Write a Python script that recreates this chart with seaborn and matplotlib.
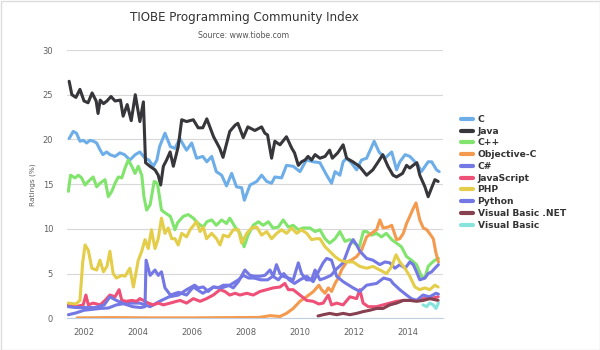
import matplotlib
matplotlib.use("Agg")
import matplotlib.pyplot as plt
import seaborn as sns
import pandas as pd
from matplotlib.patches import Rectangle

# ---------------- data ----------------
languages = ["C", "Java", "C++", "Objective-C", "C#", "JavaScript", "PHP",
             "Python", "Visual Basic .NET", "Visual Basic"]

c_years = [2001.45, 2001.6, 2001.72, 2001.85, 2001.97, 2002.1, 2002.22, 2002.35, 2002.47, 2002.6,
           2002.7, 2002.84, 2002.96, 2003.15, 2003.33, 2003.5, 2003.7, 2003.9, 2004.07, 2004.26,
           2004.4, 2004.57, 2004.7, 2004.8, 2005.0, 2005.2, 2005.37, 2005.55, 2005.68, 2005.8,
           2005.99, 2006.17, 2006.4, 2006.55, 2006.73, 2006.9, 2007.1, 2007.28, 2007.47, 2007.65,
           2007.84, 2007.94, 2008.15, 2008.4, 2008.58, 2008.77, 2008.95, 2009.07, 2009.32, 2009.5,
           2009.75, 2010.0, 2010.24, 2010.49, 2010.74, 2010.99, 2011.17, 2011.3, 2011.48, 2011.6,
           2011.73, 2011.9, 2012.1, 2012.28, 2012.47, 2012.75, 2012.93, 2013.15, 2013.4, 2013.58,
           2013.7, 2013.9, 2014.07, 2014.2, 2014.38, 2014.5, 2014.75, 2014.88, 2015.06, 2015.16]
c_vals = [20.1, 20.9, 20.7, 19.8, 19.9, 19.6, 19.9, 19.8, 19.6, 18.8,
          18.3, 18.6, 18.3, 18.1, 18.5, 18.3, 17.7, 18.3, 18.6, 17.9,
          17.7, 17.0, 17.7, 19.2, 20.7, 19.2, 19.0, 20.1, 19.4, 18.8,
          19.6, 17.9, 18.1, 17.5, 18.1, 16.4, 16.0, 14.8, 16.2, 14.7,
          14.6, 13.2, 14.9, 15.3, 16.0, 15.3, 15.1, 15.8, 15.7, 17.1,
          17.0, 16.4, 17.7, 17.5, 17.4, 16.0, 15.1, 16.4, 16.0, 17.5,
          17.9, 17.4, 16.6, 17.7, 17.9, 19.8, 18.6, 17.9, 18.6, 16.6,
          17.5, 18.3, 18.1, 17.7, 17.1, 16.4, 17.5, 17.5, 16.6, 16.4]

java_years = [2001.45, 2001.55, 2001.7, 2001.85, 2002.0, 2002.15, 2002.3, 2002.45, 2002.52, 2002.6,
              2002.72, 2002.85, 2003.0, 2003.15, 2003.35, 2003.45, 2003.6, 2003.75, 2003.9, 2004.07,
              2004.2, 2004.28, 2004.44, 2004.63, 2004.75, 2004.84, 2004.94, 2005.06, 2005.19, 2005.31,
              2005.49, 2005.62, 2005.8, 2006.05, 2006.23, 2006.4, 2006.55, 2006.8, 2007.03, 2007.15,
              2007.4, 2007.6, 2007.7, 2007.9, 2008.07, 2008.33, 2008.58, 2008.7, 2008.8, 2008.95,
              2009.07, 2009.26, 2009.5, 2009.7, 2009.8, 2009.94, 2010.06, 2010.19, 2010.3, 2010.43,
              2010.56, 2010.74, 2010.93, 2011.1, 2011.2, 2011.4, 2011.6, 2011.73, 2011.96, 2012.2,
              2012.47, 2012.7, 2012.9, 2013.07, 2013.26, 2013.45, 2013.58, 2013.8, 2013.95, 2014.07,
              2014.19, 2014.33, 2014.44, 2014.63, 2014.75, 2014.88, 2015.0, 2015.12]
java_vals = [26.5, 25.0, 24.7, 25.6, 24.3, 24.1, 25.2, 24.3, 22.9, 24.4,
             24.0, 24.3, 24.8, 24.3, 24.4, 22.6, 23.9, 22.1, 25.0, 22.0,
             24.2, 17.4, 17.0, 16.6, 16.0, 14.9, 17.0, 17.7, 18.6, 17.0,
             19.2, 22.2, 22.0, 22.2, 21.3, 21.3, 22.3, 20.3, 19.0, 18.0,
             20.9, 21.6, 21.8, 20.2, 21.4, 21.0, 21.4, 20.7, 20.5, 17.9,
             19.8, 19.4, 20.3, 19.0, 18.5, 17.1, 17.5, 17.7, 18.1, 17.7,
             18.3, 17.9, 18.1, 18.8, 17.9, 18.5, 19.4, 17.9, 17.5, 17.0,
             16.0, 16.6, 17.5, 18.3, 17.0, 16.0, 15.8, 16.2, 17.1, 16.8,
             17.1, 17.4, 16.0, 14.7, 13.6, 14.6, 15.5, 15.3]

cpp_years = [2001.42, 2001.5, 2001.67, 2001.79, 2001.91, 2002.04, 2002.16, 2002.34, 2002.47, 2002.59,
             2002.78, 2002.9, 2003.03, 2003.15, 2003.27, 2003.4, 2003.52, 2003.64, 2003.77, 2003.89,
             2004.01, 2004.14, 2004.22, 2004.32, 2004.45, 2004.6, 2004.72, 2004.87, 2005.0, 2005.2,
             2005.37, 2005.47, 2005.68, 2005.86, 2006.05, 2006.23, 2006.42, 2006.55, 2006.73, 2006.9,
             2007.1, 2007.28, 2007.4, 2007.6, 2007.78, 2007.93, 2008.08, 2008.27, 2008.46, 2008.64,
             2008.83, 2009.0, 2009.2, 2009.38, 2009.57, 2009.75, 2009.94, 2010.12, 2010.37, 2010.56,
             2010.74, 2010.93, 2011.1, 2011.3, 2011.48, 2011.67, 2011.85, 2012.1, 2012.2, 2012.35,
             2012.47, 2012.65, 2012.84, 2013.02, 2013.2, 2013.4, 2013.58, 2013.76, 2013.95, 2014.13,
             2014.32, 2014.5, 2014.63, 2014.75, 2014.88, 2015.0, 2015.13]
cpp_vals = [14.2, 16.0, 15.7, 16.0, 15.7, 14.9, 15.3, 15.8, 14.7, 15.1,
            15.5, 13.6, 14.2, 15.1, 15.8, 15.7, 16.8, 17.7, 17.0, 16.2,
            17.0, 16.0, 13.6, 12.1, 12.7, 15.3, 15.1, 12.1, 11.8, 11.4,
            9.9, 10.7, 11.4, 11.6, 11.2, 10.6, 10.2, 10.8, 11.0, 10.4,
            11.0, 10.6, 11.2, 10.2, 9.5, 8.0, 9.3, 10.4, 10.8, 10.4,
            10.8, 10.1, 10.2, 11.0, 10.2, 10.4, 9.9, 10.1, 10.1, 9.7,
            9.9, 8.9, 8.4, 8.9, 9.7, 8.6, 8.8, 8.2, 8.0, 9.7,
            9.7, 9.3, 9.5, 9.1, 9.5, 8.8, 8.4, 8.0, 6.9, 6.5,
            6.0, 4.7, 4.5, 5.8, 6.2, 6.5, 6.7]

objc_years = [2001.75, 2003.0, 2004.5, 2006.0, 2007.5, 2008.5, 2008.9, 2009.26, 2009.5, 2009.75,
              2010.0, 2010.24, 2010.5, 2010.7, 2010.8, 2010.93, 2011.05, 2011.17, 2011.3, 2011.42,
              2011.54, 2011.73, 2011.9, 2012.1, 2012.28, 2012.47, 2012.65, 2012.84, 2012.96, 2013.08,
              2013.27, 2013.4, 2013.58, 2013.7, 2013.83, 2013.95, 2014.07, 2014.2, 2014.3, 2014.44,
              2014.57, 2014.7, 2014.8, 2014.94, 2015.04, 2015.13]
objc_vals = [0.05, 0.08, 0.05, 0.05, 0.08, 0.1, 0.3, 0.2, 0.55, 1.1,
             1.9, 2.4, 3.0, 3.7, 3.2, 2.8, 3.4, 3.0, 3.9, 4.5,
             5.4, 6.3, 6.5, 6.9, 7.6, 9.1, 9.5, 9.9, 11.0, 10.1,
             10.2, 10.4, 8.8, 8.9, 9.5, 10.6, 11.4, 12.3, 12.9, 11.0,
             10.1, 9.9, 9.5, 8.9, 7.3, 6.3]

csharp_years = [2001.42, 2001.7, 2002.0, 2002.3, 2002.6, 2002.9, 2003.2, 2003.6, 2004.07, 2004.45,
                2004.8, 2005.15, 2005.5, 2005.8, 2006.1, 2006.23, 2006.42, 2006.6, 2006.79, 2006.97,
                2007.16, 2007.35, 2007.53, 2007.72, 2007.96, 2008.15, 2008.33, 2008.52, 2008.7, 2008.89,
                2009.01, 2009.13, 2009.26, 2009.38, 2009.57, 2009.75, 2009.94, 2010.06, 2010.24, 2010.43,
                2010.56, 2010.74, 2010.93, 2011.15, 2011.35, 2011.6, 2011.85, 2011.97, 2012.1, 2012.22,
                2012.47, 2012.7, 2012.96, 2013.15, 2013.33, 2013.52, 2013.7, 2013.9, 2014.07, 2014.2,
                2014.32, 2014.44, 2014.63, 2014.75, 2014.88, 2015.0, 2015.13]
csharp_vals = [0.4, 0.6, 0.9, 1.0, 1.1, 1.15, 1.5, 1.7, 1.7, 1.3,
               1.9, 2.4, 2.6, 3.2, 3.7, 3.4, 3.5, 3.0, 3.5, 3.4,
               3.7, 3.7, 3.4, 4.1, 5.4, 4.8, 4.7, 4.7, 4.8, 5.4,
               4.7, 6.0, 5.0, 4.7, 4.5, 4.3, 6.2, 5.0, 4.3, 4.3,
               5.4, 4.3, 4.5, 4.8, 5.5, 6.2, 8.2, 8.8, 8.2, 7.5,
               6.7, 6.5, 6.0, 6.3, 6.2, 5.6, 6.0, 5.6, 6.3, 6.0,
               5.2, 4.3, 4.5, 5.0, 5.2, 5.6, 6.0]

js_years = [2001.42, 2001.7, 2001.97, 2002.07, 2002.16, 2002.34, 2002.6, 2002.78, 2002.96, 2003.15,
            2003.3, 2003.4, 2003.58, 2003.77, 2003.95, 2004.07, 2004.2, 2004.38, 2004.57, 2004.75,
            2004.94, 2005.19, 2005.43, 2005.56, 2005.8, 2006.05, 2006.3, 2006.54, 2006.79, 2007.04,
            2007.22, 2007.4, 2007.6, 2007.78, 2008.03, 2008.27, 2008.52, 2008.77, 2009.01, 2009.26,
            2009.44, 2009.57, 2009.75, 2010.0, 2010.25, 2010.49, 2010.7, 2010.86, 2011.05, 2011.17,
            2011.36, 2011.6, 2011.85, 2012.1, 2012.22, 2012.34, 2012.53, 2012.84, 2013.08, 2013.33,
            2013.58, 2013.83, 2014.07, 2014.32, 2014.57, 2014.81, 2015.12]
js_vals = [1.5, 1.3, 1.5, 2.6, 1.5, 1.7, 1.5, 2.0, 2.6, 2.4,
           3.2, 2.0, 1.9, 2.0, 1.9, 2.2, 2.0, 1.7, 1.5, 1.7,
           1.5, 1.7, 1.9, 2.0, 1.7, 2.2, 1.9, 2.2, 2.6, 3.2,
           3.0, 2.6, 2.8, 2.6, 2.8, 2.6, 3.0, 3.2, 3.4, 3.5,
           3.9, 3.2, 3.2, 2.6, 2.0, 1.9, 1.6, 1.7, 2.6, 1.5,
           1.7, 1.5, 2.4, 2.2, 3.2, 1.7, 1.3, 1.3, 1.5, 1.7,
           1.9, 2.0, 2.0, 2.0, 2.2, 2.2, 2.4]

php_years = [2001.42, 2001.7, 2001.85, 2001.95, 2002.04, 2002.16, 2002.29, 2002.47, 2002.59, 2002.72,
             2002.85, 2002.96, 2003.08, 2003.2, 2003.4, 2003.52, 2003.7, 2003.83, 2004.01, 2004.14,
             2004.26, 2004.38, 2004.5, 2004.63, 2004.75, 2004.87, 2005.0, 2005.12, 2005.25, 2005.37,
             2005.49, 2005.62, 2005.8, 2005.93, 2006.17, 2006.3, 2006.42, 2006.54, 2006.73, 2006.91,
             2007.04, 2007.16, 2007.35, 2007.53, 2007.72, 2007.84, 2008.03, 2008.21, 2008.4, 2008.58,
             2008.77, 2008.95, 2009.14, 2009.32, 2009.51, 2009.69, 2009.88, 2010.06, 2010.25, 2010.43,
             2010.62, 2010.74, 2010.93, 2011.1, 2011.3, 2011.48, 2011.73, 2011.97, 2012.22, 2012.47,
             2012.71, 2012.96, 2013.21, 2013.4, 2013.56, 2013.7, 2013.89, 2014.07, 2014.26, 2014.44,
             2014.63, 2014.81, 2015.0, 2015.12]
php_vals = [1.7, 1.6, 2.0, 6.2, 8.2, 7.6, 5.6, 5.4, 6.5, 5.2,
            5.8, 7.5, 5.0, 4.5, 4.8, 4.7, 5.6, 3.5, 6.5, 7.5,
            8.8, 7.8, 9.9, 7.8, 8.9, 11.2, 9.5, 10.1, 8.9, 8.9,
            8.2, 9.5, 9.1, 9.9, 10.8, 9.7, 10.2, 8.9, 9.5, 8.9,
            8.2, 9.3, 9.1, 9.9, 9.9, 8.4, 9.5, 10.1, 10.2, 9.3,
            9.7, 8.9, 9.5, 9.9, 9.5, 10.1, 9.5, 9.9, 9.5, 8.8,
            8.9, 8.9, 8.0, 7.5, 6.9, 6.5, 6.3, 6.3, 5.8, 5.6,
            5.8, 5.4, 5.0, 5.8, 7.1, 6.3, 5.6, 4.7, 3.5, 3.2,
            3.4, 3.2, 3.7, 3.5]

python_years = [2001.42, 2001.7, 2002.0, 2002.4, 2002.75, 2002.96, 2003.2, 2003.5, 2003.8, 2004.1,
                2004.26, 2004.3, 2004.45, 2004.63, 2004.75, 2004.87, 2005.0, 2005.2, 2005.5, 2005.8,
                2006.05, 2006.4, 2006.8, 2007.1, 2007.4, 2007.72, 2007.9, 2008.1, 2008.3, 2008.55,
                2008.8, 2009.0, 2009.2, 2009.4, 2009.6, 2009.8, 2010.0, 2010.25, 2010.49, 2010.86,
                2010.99, 2011.17, 2011.36, 2011.6, 2011.97, 2012.22, 2012.47, 2012.84, 2013.1, 2013.35,
                2013.45, 2013.7, 2013.95, 2014.13, 2014.32, 2014.56, 2014.8, 2015.04, 2015.13]
python_vals = [1.3, 1.2, 1.2, 1.2, 1.5, 2.4, 2.0, 1.6, 1.3, 1.2,
               1.3, 6.5, 4.8, 5.4, 4.8, 5.2, 3.4, 2.6, 2.9, 2.6,
               3.5, 2.8, 3.5, 3.4, 3.7, 4.3, 4.8, 4.5, 4.5, 4.3,
               4.3, 4.7, 4.3, 5.0, 4.3, 3.9, 4.3, 4.7, 4.1, 6.2,
               6.7, 6.5, 4.7, 4.1, 3.4, 3.0, 3.7, 3.9, 4.5, 4.3,
               3.9, 3.2, 2.6, 2.2, 2.0, 2.6, 2.4, 2.8, 2.7]

vbnet_years = [2010.67, 2010.86, 2011.1, 2011.36, 2011.6, 2011.85, 2012.1, 2012.34, 2012.59, 2012.84,
               2013.08, 2013.33, 2013.58, 2013.83, 2014.07, 2014.32, 2014.57, 2014.81, 2015.12]
vbnet_vals = [0.26, 0.4, 0.55, 0.4, 0.55, 0.4, 0.55, 0.75, 0.9, 1.1,
              1.1, 1.5, 1.7, 2.0, 2.0, 1.9, 2.0, 2.2, 2.0]

vb_years = [2014.56, 2014.69, 2014.81, 2014.94, 2015.04, 2015.13]
vb_vals = [1.5, 1.3, 1.7, 1.5, 1.1, 1.7]

colors = ["#6eaee8", "#36363b", "#80e46d", "#f49a4e", "#7478e4",
          "#ee5078", "#e4cd48", "#7478e4", "#87404f", "#86e4dc"]

series_years = [c_years, java_years, cpp_years, objc_years, csharp_years,
                js_years, php_years, python_years, vbnet_years, vb_years]
series_vals = [c_vals, java_vals, cpp_vals, objc_vals, csharp_vals,
               js_vals, php_vals, python_vals, vbnet_vals, vb_vals]

frames = []
for lang, ys, vs in zip(languages, series_years, series_vals):
    frames.append(pd.DataFrame({"year": ys, "rating": vs, "lang": lang}))
df = pd.concat(frames, ignore_index=True)

# ---------------- figure ----------------
sns.set_theme(style="white")
plt.rcParams["font.family"] = ["DejaVu Sans"]

fig = plt.figure(figsize=(6, 3.5), dpi=100)
W, H = 600, 350
ax = fig.add_axes([67 / W, 1 - 318.3 / H, (443 - 67) / W, (318.3 - 50) / H])

sns.lineplot(data=df, x="year", y="rating", hue="lang", hue_order=languages,
             palette=dict(zip(languages, colors)), estimator=None, sort=False,
             linewidth=2.2, ax=ax, legend=True)

ax.set_xlim(2001.37, 2015.3)
ax.set_ylim(0, 30)
ax.set_yticks([0, 5, 10, 15, 20, 25, 30])
ax.set_xticks([2002, 2004, 2006, 2008, 2010, 2012, 2014])
ax.set_xticklabels(["2002", "2004", "2006", "2008", "2010", "2012", "2014"])
ax.yaxis.grid(True, color="#d8d8d8", linewidth=0.8)
ax.xaxis.grid(False)
for s in ["top", "right", "left"]:
    ax.spines[s].set_visible(False)
ax.spines["bottom"].set_color("#c0d0e0")
ax.spines["bottom"].set_linewidth(0.8)
ax.tick_params(axis="x", direction="out", length=4, width=0.8, color="#c0d0e0",
               labelsize=6, labelcolor="#606060", pad=3)
ax.tick_params(axis="y", length=0, labelsize=6, labelcolor="#606060", pad=10)
ax.set_xlabel("")
ax.set_ylabel("Ratings (%)", fontsize=5.3, color="#606060", labelpad=5)

# legend
leg = ax.legend(loc="upper left", bbox_to_anchor=(461 / W, 1 - 115 / H),
                bbox_transform=fig.transFigure, frameon=False, fontsize=6.6,
                handlelength=1.3, handletextpad=0.5, labelspacing=0.3,
                borderpad=0, borderaxespad=0)
for t in leg.get_texts():
    t.set_fontweight("bold")
    t.set_color("#333333")
for h in leg.get_lines():
    h.set_linewidth(3.0)

fig.text(244 / W, 1 - 17 / H, "TIOBE Programming Community Index", ha="center",
         va="center", fontsize=8.6, color="#333333")
fig.text(244 / W, 1 - 35 / H, "Source: www.tiobe.com", ha="center", va="center",
         fontsize=5.6, color="#555555")

fig.patches.append(Rectangle((0.5 / W, 0.5 / H), 1 - 1 / W, 1 - 1 / H, transform=fig.transFigure,
                             fill=False, edgecolor="#dddddd", linewidth=1))

fig.savefig("out.png", dpi=100)
